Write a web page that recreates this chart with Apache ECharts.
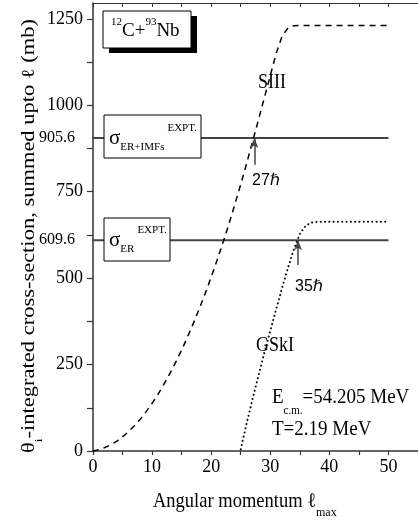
<!DOCTYPE html>
<html>
<head>
<meta charset="utf-8">
<script src="https://cdn.jsdelivr.net/npm/echarts@6/dist/echarts.min.js"></script>
<style>html,body{margin:0;padding:0;background:#fff}#c{width:418px;height:524px}</style>
</head>
<body>
<div id="c"></div>
<script>
// ---- data ----
const siiiL = [0,1,2,3,4,5,6,7,8,9,10,11,12,13,14,15,16,17,18,19,20,21,22,23,24,25,26,27,28,29,30,31,32,33,34,35,36,37,38,39,40,41,42,43,44,45,46,47,48,49,50];
const siiiV = [0,4,10,18,28,41,56,73,92,114,138,164,193,224,257,292,330,370,412,456,503,552,603,657,713,771,832,895,958,1022,1086,1150,1200,1224,1230,1231,1231,1231,1231,1231,1231,1231,1231,1231,1231,1231,1231,1231,1231,1231,1231];
const gskiL = [25,26,27,28,29,30,31,32,33,34,35,36,37,38,39,40,41,42,43,44,45,46,47,48,49,50];
const gskiV = [5,80,150,218,284,348,410,472,530,584,628,652,661,663,663,663,663,663,663,663,663,663,663,663,663,663];
const exptNames = ['σER+IMFs', 'σER'];
const exptV = [905.6, 609.6];
const exptLineFrom = -3;
const exptLineTo = 50;
const arrowL = [27.3, 34.7];
const arrowFrom = [828, 538];
const xTicks = [0,5,10,15,20,25,30,35,40,45,50,55];
const xLabels = [0,10,20,30,40,50];
const yTicks = [0,125,250,375,500,625,750,875,1000,1125,1250];
const yLabels = [0,250,500,750,1000,1250];

const SERIF = '"Liberation Serif","DejaVu Serif",serif';
const SANS = '"Liberation Sans","DejaVu Sans",sans-serif';
const AX = '#333';

const chart = echarts.init(document.getElementById('c'), null, {renderer: 'canvas'});

function txt(x, y, text, opts) {
  opts = opts || {};
  return {
    type: 'text', x: x, y: y, z: 200,
    scaleX: opts.sx || 1, scaleY: opts.sy || 1,
    rotation: opts.rot || 0,
    style: {
      text: text,
      fill: '#000',
      font: (opts.fs || 18) + 'px ' + (opts.ff || SERIF),
      fontSize: opts.fs || 18,
      fontFamily: opts.ff || SERIF,
      align: opts.align || 'center', textAlign: opts.align || 'center',
      verticalAlign: 'middle', textVerticalAlign: 'middle',
      rich: opts.rich
    }
  };
}
function box(x, y, w, h) {
  return {type: 'rect', z: 150, shape: {x: x, y: y, width: w, height: h},
    style: {fill: '#fff', stroke: '#000', lineWidth: 1}};
}

const richBox = {
  g: {fontSize: 21, fontFamily: SERIF, lineHeight: 30, verticalAlign: 'middle', fill: '#000'},
  sub: {fontSize: 11, fontFamily: SERIF, lineHeight: 12, verticalAlign: 'bottom', fill: '#000'},
  gap: {fontSize: 11, fontFamily: SERIF, lineHeight: 12, width: 3},
  sup: {fontSize: 11, fontFamily: SERIF, lineHeight: 12, verticalAlign: 'top', fill: '#000'}
};

const option = {
  animation: false,
  grid: {left: 93, top: 3, right: -5, bottom: 73},
  xAxis: [{
    type: 'value', min: 0, max: 55, position: 'bottom',
    axisLine: {show: true, lineStyle: {color: AX, width: 1.5}},
    axisTick: {show: true, inside: false, length: 4, customValues: xTicks, lineStyle: {color: AX, width: 1.2}},
    axisLabel: {customValues: xLabels, fontSize: 18, fontFamily: SERIF, color: '#000', margin: 7, formatter: v => String(v)},
    splitLine: {show: false}
  }, {
    type: 'value', min: 0, max: 55, position: 'top',
    axisLine: {show: true, lineStyle: {color: AX, width: 1.2}},
    axisTick: {show: true, inside: true, length: 4, customValues: xTicks, lineStyle: {color: AX, width: 1}},
    axisLabel: {show: false},
    splitLine: {show: false}
  }],
  yAxis: {
    type: 'value', min: 0, max: 1296,
    axisLine: {show: true, lineStyle: {color: AX, width: 1.5}},
    axisTick: {show: true, inside: false, length: 6, customValues: yTicks, lineStyle: {color: AX, width: 1.2}},
    axisLabel: {customValues: yLabels, fontSize: 18, fontFamily: SERIF, color: '#000', margin: 10, formatter: v => String(v)},
    splitLine: {show: false}
  },
  series: [
    {
      name: 'SIII', type: 'line', showSymbol: false, symbol: 'none', z: 3,
      data: siiiL.map((l, i) => [l, siiiV[i]]),
      lineStyle: {color: '#000', width: 1.5, type: [6, 5]}
    },
    {
      name: 'GSkI', type: 'line', showSymbol: false, symbol: 'none', z: 3,
      data: gskiL.map((l, i) => [l, gskiV[i]]),
      lineStyle: {color: '#000', width: 2, type: [0.1, 4.2], cap: 'round'}
    }
  ].concat(exptV.map((v, i) => ({
      name: exptNames[i], type: 'line', showSymbol: false, symbol: 'none', clip: false, z: 2,
      data: [[exptLineFrom, v], [exptLineTo, v]],
      lineStyle: {color: '#444', width: 2},
      markLine: {
        silent: true, symbol: ['none', 'arrow'], symbolSize: [6, 10],
        label: {show: false},
        lineStyle: {color: '#444', width: 1.5, type: 'solid'},
        data: [[{coord: [arrowL[i], arrowFrom[i]]}, {coord: [arrowL[i], v]}]]
      }
  }))),
  graphic: [
    // reaction label box with shadow
    {type: 'rect', z: 140, shape: {x: 109, y: 16, width: 88, height: 37}, style: {fill: '#000'}},
    box(103, 11, 88, 37),
    txt(111, 31, '{s|12}{m|C+}{s|93}{m|Nb}', {align: 'left', rich: {
      m: {fontSize: 19, fontFamily: SERIF, lineHeight: 28, verticalAlign: 'middle', fill: '#000'},
      s: {fontSize: 11, fontFamily: SERIF, lineHeight: 12, verticalAlign: 'top', fill: '#000'}
    }}),
    box(104, 115, 97, 43),
    txt(109, 138, '{g|σ}{sub|ER+IMFs}{gap|}{sup|EXPT.}', {align: 'left', rich: richBox}),
    box(104, 218, 66, 43),
    txt(109, 240, '{g|σ}{sub|ER}{gap|}{sup|EXPT.}', {align: 'left', rich: richBox}),
    txt(75, 138, '905.6', {align: 'right', fs: 16}),
    txt(75, 240, '609.6', {align: 'right', fs: 16}),
    txt(272, 83, 'SIII', {fs: 18, sy: 1.12}),
    txt(275, 346, 'GSkI', {fs: 18, sy: 1.12}),
    txt(266, 181, '27ℏ', {fs: 16, ff: SANS}),
    txt(309, 287, '35ℏ', {fs: 16, ff: SANS}),
    txt(272, 398, '{m|E}{s|c.m.}{m|=54.205 MeV}', {align: 'left', sy: 1.1, rich: {
      m: {fontSize: 19, fontFamily: SERIF, lineHeight: 34, verticalAlign: 'middle', fill: '#000'},
      s: {fontSize: 11, fontFamily: SERIF, lineHeight: 12, verticalAlign: 'bottom', fill: '#000'}
    }}),
    txt(272, 430, 'T=2.19 MeV', {align: 'left', fs: 19, sy: 1.1}),
    txt(153, 502, '{m|Angular momentum ℓ}{s|max}', {align: 'left', sy: 1.12, rich: {
      m: {fontSize: 18.5, fontFamily: SERIF, lineHeight: 30, verticalAlign: 'middle', fill: '#000'},
      s: {fontSize: 12, fontFamily: SERIF, lineHeight: 12, verticalAlign: 'bottom', fill: '#000'}
    }}),
    txt(29, 236, '{m|θ}{s|i}{m|-integrated cross-section, summed upto ℓ (mb)}', {rot: Math.PI / 2, sx: 1.25, rich: {
      m: {fontSize: 18, fontFamily: SERIF, lineHeight: 32, verticalAlign: 'middle', fill: '#000'},
      s: {fontSize: 11, fontFamily: SERIF, lineHeight: 12, verticalAlign: 'bottom', fill: '#000'}
    }})
  ]
};
chart.setOption(option);
</script>
</body>
</html>
